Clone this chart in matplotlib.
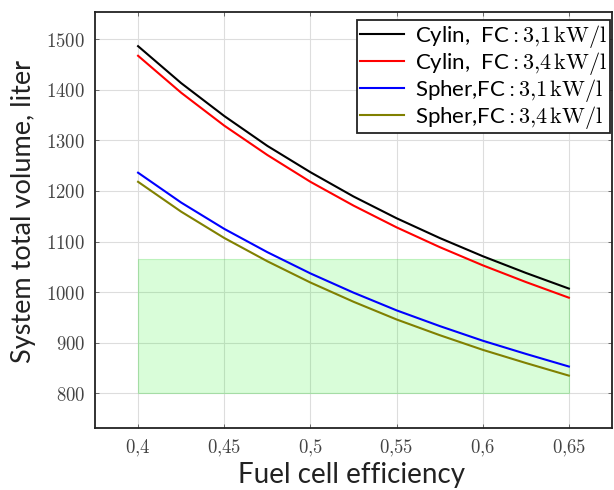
import matplotlib
matplotlib.use("Agg")
import matplotlib.pyplot as plt

plt.rcParams["mathtext.fontset"] = "cm"
plt.rcParams["font.family"] = ["Lato", "DejaVu Sans"]

# fuel cell efficiency
eff = [0.4, 0.425, 0.45, 0.475, 0.5, 0.525, 0.55, 0.575, 0.6, 0.625, 0.65]

# system total volume, liter
cyl_31 = [1486, 1413, 1348, 1289, 1237, 1189, 1146, 1107, 1071, 1038, 1007]
cyl_34 = [1467, 1394, 1329, 1271, 1218, 1171, 1128, 1089, 1053, 1020, 989]
sph_31 = [1236, 1177, 1125, 1079, 1037, 999, 964, 933, 904, 878, 853]
sph_34 = [1218, 1159, 1107, 1061, 1019, 981, 946, 915, 886, 860, 835]

labels = [
    r"Cylin,  FC$:3{,}1\,\mathrm{kW}/\mathrm{l}$",
    r"Cylin,  FC$:3{,}4\,\mathrm{kW}/\mathrm{l}$",
    r"Spher,FC$:3{,}1\,\mathrm{kW}/\mathrm{l}$",
    r"Spher,FC$:3{,}4\,\mathrm{kW}/\mathrm{l}$",
]
colors = ["black", "#ff0000", "#0000ff", "#808000"]

# target zone
zone_x = [0.4, 0.65]
zone_low, zone_high = 800, 1066

xticks = [0.4, 0.45, 0.5, 0.55, 0.6, 0.65]
yticks = [800, 900, 1000, 1100, 1200, 1300, 1400, 1500]

fig = plt.figure(figsize=(6.14, 4.90), dpi=100)
ax = fig.add_axes([0.1547, 0.1265, 0.842, 0.849])

ax.fill_between(zone_x, zone_low, zone_high, facecolor=(0.0, 0.95, 0.0, 0.15),
                edgecolor=(0.3, 0.85, 0.3, 0.3), linewidth=0.8, zorder=1)

for ys, c, lab in zip([cyl_31, cyl_34, sph_31, sph_34], colors, labels):
    ax.plot(eff, ys, color=c, lw=1.5, label=lab, zorder=3)

ax.set_xlim(0.375, 0.675)
ax.set_ylim(731.5, 1553.5)
ax.set_xticks(xticks)
ax.set_yticks(yticks)
ax.set_xticklabels([r"$%s$" % str(v).replace(".", "{,}") for v in xticks])
ax.set_yticklabels([r"$%d$" % v for v in yticks])
ax.tick_params(direction="in", length=3, width=0.6, color="#555555",
               labelsize=13.5, labelcolor="#444444", top=True, right=True, pad=7)
ax.grid(True, color="#dddddd", lw=0.8, zorder=0)
ax.set_axisbelow(True)
for s in ax.spines.values():
    s.set_linewidth(1.3)
    s.set_color("#222222")

ax.set_xlabel("Fuel cell efficiency", fontsize=20, color="#222222")
ax.xaxis.set_label_coords(0.497, -0.082)
ax.set_ylabel("System total volume, liter", fontsize=19.5, color="#222222")
ax.yaxis.set_label_coords(-0.114, 0.52)

leg = ax.legend(loc="upper right", fontsize=16, frameon=True, fancybox=False,
                bbox_to_anchor=(0.9935, 0.959), bbox_transform=fig.transFigure,
                borderaxespad=0, handlelength=2.0, labelspacing=0.0,
                borderpad=0.12, handletextpad=0.5)
leg.get_frame().set_edgecolor("#222222")
leg.get_frame().set_linewidth(1.3)
leg.get_frame().set_alpha(1)

fig.savefig("out.png", dpi=100)
